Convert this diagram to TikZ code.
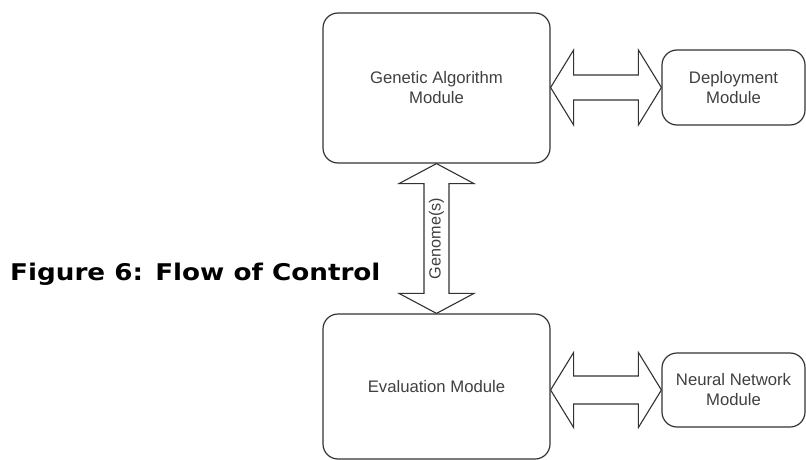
\documentclass[tikz,border=0pt]{standalone}
\usepackage{fontspec}
\setmainfont{Liberation Sans}
\newfontfamily\capfont[FakeStretch=1.14]{DejaVu Sans}
\usetikzlibrary{calc}
\definecolor{linec}{HTML}{333333}
\definecolor{textc}{HTML}{404040}
\tikzset{
  modbox/.style={draw=linec, line width=1.2pt, rounded corners=15pt, inner sep=0pt,
    text=textc, font=\fontsize{16.7}{20}\selectfont, align=center},
  fatarrow/.style={draw=linec, line width=1.1pt, fill=white, line join=miter},
}
\begin{document}
\begin{tikzpicture}[x=1pt, y=-1pt]
\useasboundingbox (0,0) rectangle (806,460);
% boxes
\node[modbox, minimum width=227pt, minimum height=150pt] (ga) at (436.5,88) {Genetic Algorithm\\Module};
\node[modbox, minimum width=143pt, minimum height=75pt] (dep) at (733.5,87.5) {Deployment\\Module};
\node[modbox, minimum width=227pt, minimum height=145pt] (ev) at (436.5,386.5) {Evaluation Module};
\node[modbox, minimum width=143pt, minimum height=74pt] (nn) at (733.5,390) {Neural Network\\Module};
% top horizontal double arrow
\coordinate (a1) at (ga.east |- dep.west);
\coordinate (b1) at (dep.west);
\draw[fatarrow] (a1) -- ($(a1)+(23,-37.5)$) -- ($(a1)+(23,-12.5)$) -- ($(b1)+(-23,-12.5)$)
  -- ($(b1)+(-23,-37.5)$) -- (b1) -- ($(b1)+(-23,37.5)$) -- ($(b1)+(-23,12.5)$)
  -- ($(a1)+(23,12.5)$) -- ($(a1)+(23,37.5)$) -- cycle;
% bottom horizontal double arrow
\coordinate (a2) at (ev.east |- nn.west);
\coordinate (b2) at (nn.west);
\draw[fatarrow] (a2) -- ($(a2)+(23,-37.5)$) -- ($(a2)+(23,-14)$) -- ($(b2)+(-23,-14)$)
  -- ($(b2)+(-23,-37.5)$) -- (b2) -- ($(b2)+(-23,37.5)$) -- ($(b2)+(-23,14)$)
  -- ($(a2)+(23,14)$) -- ($(a2)+(23,37.5)$) -- cycle;
% vertical double arrow
\coordinate (a3) at (ga.south);
\coordinate (b3) at (ev.north);
\draw[fatarrow] (a3) -- ($(a3)+(37.5,20)$) -- ($(a3)+(12.5,20)$) -- ($(b3)+(12.5,-20)$)
  -- ($(b3)+(37.5,-20)$) -- (b3) -- ($(b3)+(-37.5,-20)$) -- ($(b3)+(-12.5,-20)$)
  -- ($(a3)+(-12.5,20)$) -- ($(a3)+(-37.5,20)$) -- cycle;
\node[rotate=90, text=textc, font=\fontsize{16.2}{19}\selectfont, inner sep=0pt] (gen) at ($(a3)!0.5!(b3)$) {Genome(s)};
% caption
\node[anchor=base west, inner sep=0pt, font=\capfont\bfseries\fontsize{23}{27}\selectfont] (cap) at (10,280) {Figure 6: Flow of Control};
\end{tikzpicture}
\end{document}
